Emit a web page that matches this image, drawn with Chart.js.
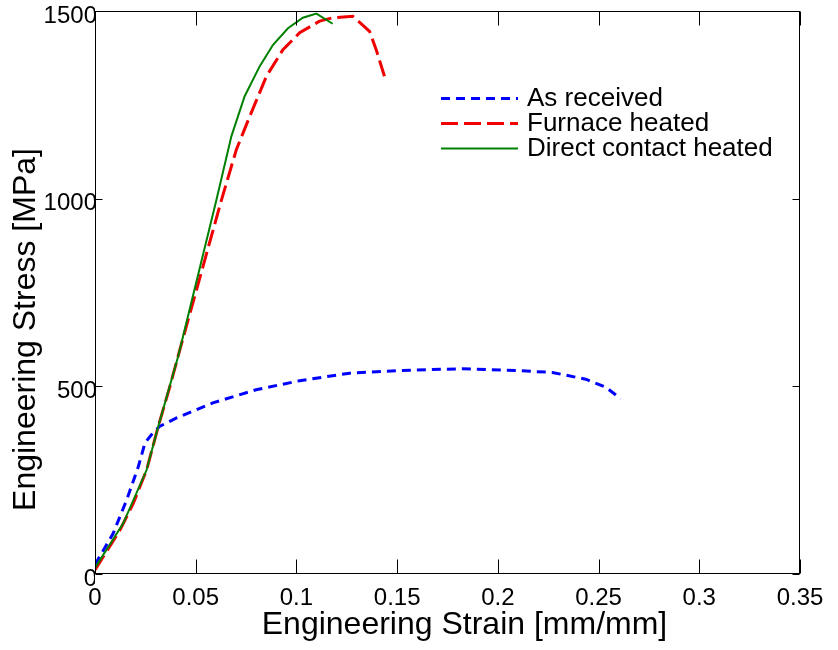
<!DOCTYPE html>
<html>
<head>
<meta charset="utf-8">
<title>Engineering stress-strain curves</title>
<script src="https://cdn.jsdelivr.net/npm/chart.js@4.4.0/dist/chart.umd.min.js"></script>
<style>
  html, body { margin: 0; padding: 0; background: #fff; }
  #stress-chart { display: block; }
</style>
</head>
<body>
<canvas id="stress-chart" width="838" height="650"></canvas>
<script>
// Axis ticks
const strainTicks = [0, 0.05, 0.1, 0.15, 0.2, 0.25, 0.3, 0.35];
const stressTicks = [0, 500, 1000, 1500];

// As received
const receivedStrain = [0, 0.009, 0.0157, 0.0215, 0.0248, 0.028, 0.032, 0.0405, 0.0585, 0.080, 0.1016, 0.1264, 0.151, 0.1824, 0.209, 0.227, 0.2436, 0.2535, 0.261];
const receivedStress = [25, 108, 197, 286, 349, 371, 393, 416, 456, 491, 515, 535, 542, 547, 542, 537, 519, 498, 467];

// Furnace heated
const furnaceStrain = [0, 0.0124, 0.019, 0.0256, 0.0314, 0.0372, 0.0421, 0.0628, 0.0702, 0.0768, 0.0851, 0.0933, 0.1016, 0.1115, 0.118, 0.128, 0.1363, 0.1396, 0.1437];
const furnaceStress = [11, 117, 188, 277, 393, 500, 597, 997, 1131, 1219, 1326, 1397, 1442, 1473, 1482, 1486, 1446, 1397, 1326];

// Direct contact heated
const contactStrain = [0, 0.014, 0.0256, 0.0314, 0.0413, 0.0603, 0.0677, 0.0743, 0.0818, 0.0884, 0.0958, 0.1032, 0.1099, 0.118];
const contactStress = [16, 135, 277, 393, 580, 997, 1166, 1273, 1353, 1410, 1454, 1482, 1493, 1466];

const xTitle = 'Engineering Strain [mm/mm]';
const yTitle = 'Engineering Stress [MPa]';

const FONT = "'Liberation Sans', Arial, Helvetica, sans-serif";
const toPoints = (xs, ys) => xs.map((x, i) => ({x: x, y: ys[i]}));

// matlab style frame: box, inward ticks, legend, axis titles
const matlabFrame = {
    id: 'matlabFrame',
    afterDraw(chart) {
        const {ctx, chartArea: a, scales} = chart;
        const L = Math.round(a.left) + 0.5, R = Math.round(a.right) - 0.5;
        const T = Math.round(a.top) + 0.5, B = Math.round(a.bottom) - 0.5;
        ctx.save();
        ctx.strokeStyle = '#000';
        ctx.lineWidth = 1;
        ctx.setLineDash([]);
        ctx.strokeRect(L, T, R - L, B - T);

        ctx.beginPath();
        strainTicks.forEach(v => {
            const px = Math.round(scales.x.getPixelForValue(v)) + 0.5;
            ctx.moveTo(px, B); ctx.lineTo(px, B - 14);
            ctx.moveTo(px, T); ctx.lineTo(px, T + 14);
        });
        stressTicks.forEach(v => {
            const py = Math.round(scales.y.getPixelForValue(v)) + 0.5;
            ctx.moveTo(L, py); ctx.lineTo(L + 7, py);
            ctx.moveTo(R, py); ctx.lineTo(R - 7, py);
        });
        ctx.stroke();

        // legend, no box
        ctx.font = `26px ${FONT}`;
        ctx.textAlign = 'left';
        ctx.textBaseline = 'middle';
        chart.data.datasets.forEach((ds, i) => {
            const ly = 98.5 + i * 25;
            ctx.strokeStyle = ds.borderColor;
            ctx.lineWidth = ds.borderWidth;
            ctx.setLineDash(ds.borderDash || []);
            ctx.beginPath();
            ctx.moveTo(441, ly);
            ctx.lineTo(518, ly);
            ctx.stroke();
            ctx.fillStyle = '#000';
            ctx.fillText(ds.label, 527, ly);
        });

        // axis titles
        ctx.font = `32px ${FONT}`;
        ctx.fillStyle = '#000';
        ctx.textAlign = 'center';
        ctx.textBaseline = 'alphabetic';
        ctx.fillText(xTitle, (a.left + a.right) / 2 + 17, 634);
        ctx.translate(35, (a.top + a.bottom) / 2 + 37);
        ctx.rotate(-Math.PI / 2);
        ctx.fillText(yTitle, 0, 0);
        ctx.restore();
    }
};

const stressCtx = document.getElementById('stress-chart').getContext('2d');
new Chart(stressCtx, {
    type: 'line',
    data: {
        datasets: [{
            label: 'As received',
            data: toPoints(receivedStrain, receivedStress),
            borderColor: '#0000ff',
            borderWidth: 3,
            borderDash: [9, 6],
            order: 3
        }, {
            label: 'Furnace heated',
            data: toPoints(furnaceStrain, furnaceStress),
            borderColor: '#f00000',
            borderWidth: 3,
            borderDash: [17, 6],
            order: 2
        }, {
            label: 'Direct contact heated',
            data: toPoints(contactStrain, contactStress),
            borderColor: '#008000',
            borderWidth: 2,
            order: 1
        }]
    },
    options: {
        responsive: false,
        animation: false,
        devicePixelRatio: 1,
        layout: {
            padding: {top: 11, right: 38, left: 0, bottom: 0}
        },
        elements: {
            point: {radius: 0},
            line: {tension: 0, fill: false}
        },
        plugins: {
            legend: {display: false},
            tooltip: {enabled: false}
        },
        scales: {
            x: {
                type: 'linear',
                min: 0,
                max: 0.35,
                grid: {display: false, drawTicks: false},
                border: {display: false},
                afterBuildTicks: s => { s.ticks = strainTicks.map(v => ({value: v})); },
                afterFit: s => { s.height = 76; s.paddingLeft = 0; s.paddingRight = 0; },
                ticks: {
                    color: '#000',
                    font: {family: FONT, size: 24},
                    padding: 10,
                    maxRotation: 0,
                    autoSkip: false,
                    callback: v => String(Number(v.toFixed(2)))
                }
            },
            y: {
                type: 'linear',
                min: 0,
                max: 1500,
                grid: {display: false, drawTicks: false},
                border: {display: false},
                afterBuildTicks: s => { s.ticks = stressTicks.map(v => ({value: v})); },
                afterFit: s => { s.width = 95; s.paddingTop = 0; s.paddingBottom = 0; },
                ticks: {
                    color: '#000',
                    font: {family: FONT, size: 24},
                    padding: -2,
                    labelOffset: 5,
                    autoSkip: false,
                    callback: v => String(v)
                }
            }
        }
    },
    plugins: [matlabFrame]
});
</script>
</body>
</html>
